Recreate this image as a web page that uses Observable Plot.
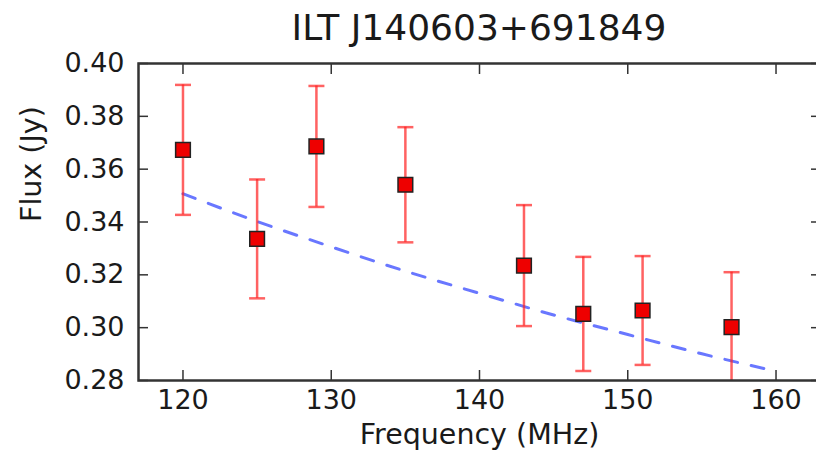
<!DOCTYPE html>
<html>
<head>
<meta charset="utf-8">
<script src="https://cdn.jsdelivr.net/npm/d3@7"></script>
<script src="https://cdn.jsdelivr.net/npm/@observablehq/plot@0.6"></script>
<style>
  html, body { margin: 0; padding: 0; background: #fff; overflow: hidden; width: 816px; height: 455px; }
  #title { position: absolute; left: 138px; width: 682px; top: 0; height: 50px; box-sizing: border-box; padding-top: 10px;
    font-family: "DejaVu Sans"; font-size: 36px; line-height: 1; text-align: center; color: #1a1a1a; white-space: nowrap; }
  #chart { position: absolute; left: 0; top: 50px; }
</style>
</head>
<body>
<div id="title">ILT J140603+691849</div>
<div id="chart"></div>
<script>
// Measured flux densities
const freq = [120, 125, 129, 135, 143, 147, 151, 157];
const flux = [0.3673, 0.3336, 0.3686, 0.3541, 0.3235, 0.3052, 0.3065, 0.3002];
const err  = [0.0246, 0.0225, 0.0229, 0.0218, 0.0229, 0.0216, 0.0206, 0.0208];
// Fitted spectrum (dashed line)
const fitFreq = [120, 125, 130, 135, 140, 145, 150, 155, 160];
const fitFlux = [0.3507, 0.3402, 0.3306, 0.3214, 0.3130, 0.3048, 0.2974, 0.2901, 0.2835];
// Ticks
const xTicks = [120, 130, 140, 150, 160];
const yTicks = [0.28, 0.30, 0.32, 0.34, 0.36, 0.38, 0.40];

const points = freq.map((f, i) => ({f, s: flux[i], lo: flux[i] - err[i], hi: flux[i] + err[i]}));
const fit = fitFreq.map((f, i) => ({f, s: fitFlux[i]}));

const cap = { draw(ctx, size) { const w = 8; ctx.moveTo(-w, 0); ctx.lineTo(w, 0); } };

const tickColor = "#333";
const plot = Plot.plot({
  width: 816,
  height: 405,
  marginTop: 13,
  marginBottom: 75,
  marginLeft: 138,
  marginRight: -4,
  style: { fontFamily: "DejaVu Sans", color: "#1a1a1a", background: "transparent", overflow: "visible" },
  x: { domain: [117, 163] },
  y: { domain: [0.28, 0.40] },
  marks: [
    Plot.line(fit, { x: "f", y: "s", stroke: "#4f5fff", strokeOpacity: 0.85, strokeWidth: 3, strokeDasharray: "13,14", curve: "monotone-x" }),
    Plot.ruleX(points, { x: "f", y1: "lo", y2: "hi", stroke: "#ff2020", strokeOpacity: 0.7, strokeWidth: 2.5, clip: true }),
    Plot.dot(points, { x: "f", y: "hi", symbol: cap, r: 5, stroke: "#ff2020", strokeOpacity: 0.7, strokeWidth: 2.5, fill: "none" }),
    Plot.dot(points.filter(d => d.lo >= 0.28), { x: "f", y: "lo", symbol: cap, r: 5, stroke: "#ff2020", strokeOpacity: 0.7, strokeWidth: 2.5, fill: "none" }),
    Plot.dot(points, { x: "f", y: "s", symbol: "square", r: 8.3, fill: "#ee0000", stroke: "#222", strokeWidth: 1.5 }),
    // inward ticks on all four sides
    Plot.axisX(xTicks, { anchor: "bottom", tickSize: 10, dy: -10, tickFormat: () => "", label: null, stroke: tickColor, strokeWidth: 1.5 }),
    Plot.axisX(xTicks, { anchor: "top", tickSize: 10, dy: 10, tickFormat: () => "", label: null, stroke: tickColor, strokeWidth: 1.5 }),
    Plot.axisY(yTicks, { anchor: "left", tickSize: 10, dx: 10, tickFormat: () => "", label: null, stroke: tickColor, strokeWidth: 1.5 }),
    Plot.axisY(yTicks, { anchor: "right", tickSize: 10, dx: -10, tickFormat: () => "", label: null, stroke: tickColor, strokeWidth: 1.5 }),
    // tick labels
    Plot.axisX(xTicks, { anchor: "bottom", tickSize: 0, tickPadding: 9, tickFormat: d => String(d), label: null, fontSize: 27 }),
    Plot.axisY(yTicks, { anchor: "left", tickSize: 0, tickPadding: 14, tickFormat: d => d.toFixed(2), label: null, fontSize: 27 }),
    Plot.frame({ stroke: "#333", strokeWidth: 2.5 }),
    // axis labels
    Plot.text(["Frequency (MHz)"], { frameAnchor: "bottom", dy: 54, text: d => d, fontSize: 28.5, lineAnchor: "middle", fill: "#1a1a1a" }),
    Plot.text(["Flux (Jy)"], { frameAnchor: "left", dx: -107, rotate: -90, text: d => d, fontSize: 28.5, lineAnchor: "middle", fill: "#1a1a1a" })
  ]
});
document.getElementById("chart").appendChild(plot);
</script>
</body>
</html>
